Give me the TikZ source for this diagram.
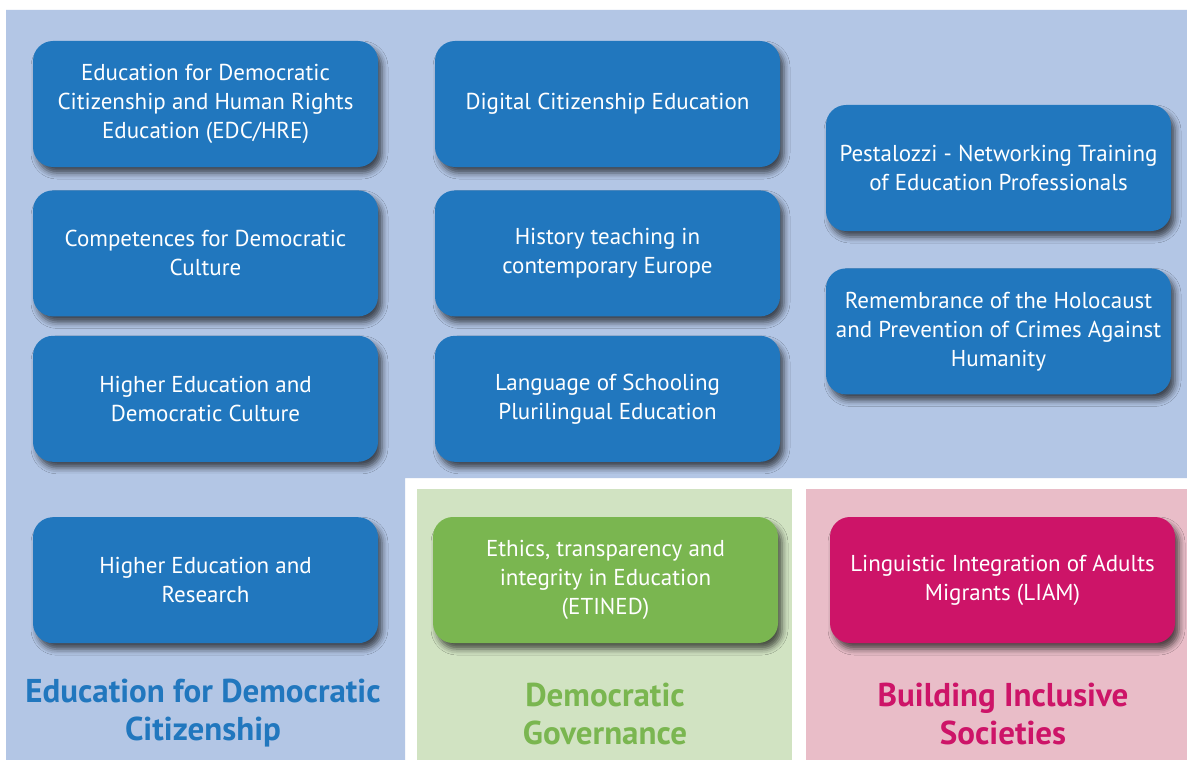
\documentclass[tikz,border=0pt]{standalone}
\usepackage{fontspec}
\setmainfont{PT Sans}
\usetikzlibrary{positioning,shadows.blur}

\definecolor{boxblue}{RGB}{33,119,190}
\definecolor{bgblue}{RGB}{179,198,229}
\definecolor{boxgreen}{RGB}{122,182,80}
\definecolor{bggreen}{RGB}{209,227,194}
\definecolor{boxpink}{RGB}{205,20,104}
\definecolor{bgpink}{RGB}{233,189,200}

\tikzset{
  topic/.style={rounded corners=20pt, fill=boxblue, text=white, minimum width=345pt, minimum height=126pt,
    align=center, inner sep=0pt, font=\fontsize{23}{29}\selectfont,
    blur shadow={shadow xshift=4pt, shadow yshift=-6pt, shadow blur radius=6pt, shadow opacity=65}},
  heading/.style={align=center, font=\fontsize{33}{38}\selectfont\bfseries}
}

\begin{document}
\begin{tikzpicture}[x=1pt, y=-1pt]
    \useasboundingbox (0,0) rectangle (1187,760);
    % background panels
    \fill[white] (0,0) rectangle (1187,760);
    \fill[bgblue] (6,10) -- (1187,10) -- (1187,478) -- (405,478) -- (405,760) -- (6,760) -- cycle;
    \fill[bggreen] (417,489) rectangle (792,760);
    \fill[bgpink] (806,489) rectangle (1187,760);

    % first column
    \node[topic] (edc) at (205.5,104) {Education for Democratic\\Citizenship and Human Rights\\Education (EDC/HRE)};
    \node[topic,below=23pt of edc] (cdc) {Competences for Democratic\\Culture};
    \node[topic,below=19pt of cdc] (hedc) {Higher Education and\\Democratic Culture};
    \node[topic,below=55pt of hedc] (her) {Higher Education and\\Research};

    % second column
    \node[topic] (dce) at (607.5,104) {Digital Citizenship Education};
    \node[topic,below=23pt of dce] (hist) {History teaching in\\contemporary Europe};
    \node[topic,below=19pt of hist] (lang) {Language of Schooling\\Plurilingual Education};

    % third column
    \node[topic] (pest) at (998.5,168) {Pestalozzi - Networking Training\\of Education Professionals};
    \node[topic,below=37pt of pest] (holo) {Remembrance of the Holocaust\\and Prevention of Crimes Against\\Humanity};

    % other pillars
    \node[topic,fill=boxgreen] (etined) at (605.5,580) {Ethics, transparency and\\integrity in Education\\(ETINED)};
    \node[topic,fill=boxpink] (liam) at (1002.5,580) {Linguistic Integration of Adults\\Migrants (LIAM)};

    % pillar titles
    \node[heading,text=boxblue] (edcTitle) at (203,713) {Education for Democratic\\Citizenship};
    \node[heading,text=boxgreen] (govTitle) at (605,714) {Democratic\\Governance};
    \node[heading,text=boxpink] (incTitle) at (1003,714) {Building Inclusive\\Societies};
\end{tikzpicture}
\end{document}
